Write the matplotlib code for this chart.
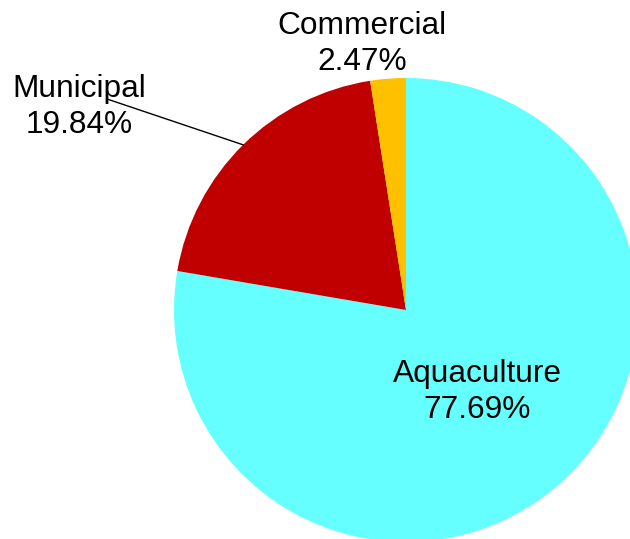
import numpy as np
import matplotlib
matplotlib.use("Agg")
import matplotlib.pyplot as plt

plt.rcParams['font.family'] = ['Liberation Sans', 'DejaVu Sans']

categories = ["Aquaculture", "Municipal", "Commercial"]
values = [77.69, 19.84, 2.47]
colors = ["#66FFFF", "#C00000", "#FFC000"]

W, H = 630, 539
fig = plt.figure(figsize=(W / 100, H / 100), dpi=100)
ax = fig.add_axes([0, 0, 1, 1])

cx, cy, R = 406, H - 310, 232
wedges, _ = ax.pie(values, colors=colors, startangle=90, counterclock=False,
                   center=(cx, cy), radius=R, wedgeprops=dict(linewidth=0))
ax.set_xlim(0, W)
ax.set_ylim(0, H)
ax.set_aspect('equal')
ax.axis('off')

fs = 22.8
label_pos = {
    "Aquaculture": (477, H - 392),
    "Municipal": (79, H - 107),
    "Commercial": (362, H - 44),
}
for cat, v in zip(categories, values):
    x, y = label_pos[cat]
    ax.text(x, y, f"{cat}\n{v:.2f}%", ha='center', va='center',
            multialignment='center', fontsize=fs, linespacing=1.26)

# leader line for Municipal
w = wedges[1]
mid = np.deg2rad((w.theta1 + w.theta2) / 2)
ex, ey = cx + R * np.cos(mid), cy + R * np.sin(mid)
ax.plot([107, ex], [H - 99, ey], color='black', lw=1.0)

fig.savefig("out.png", dpi=100)
